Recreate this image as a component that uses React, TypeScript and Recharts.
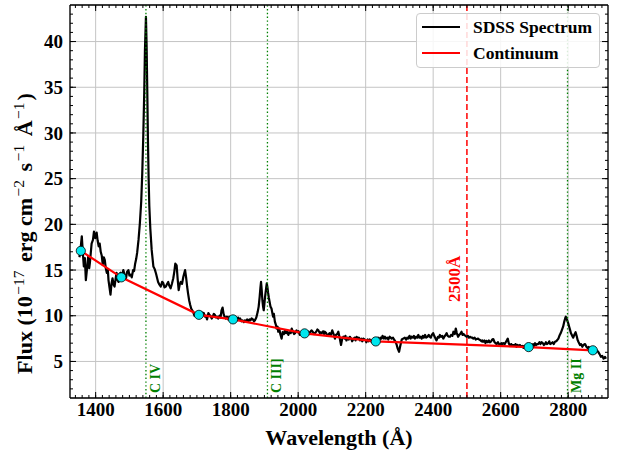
import {
  ComposedChart, Line, Scatter, XAxis, YAxis, CartesianGrid,
  ReferenceLine, Legend, Label,
} from 'recharts';

const specWave = [
  1352, 1356, 1359, 1362, 1365, 1368, 1371, 1374, 1378, 1381, 1383, 1388, 1392, 1395, 1399,
  1403, 1406, 1409, 1412, 1415, 1418, 1421, 1424, 1427, 1430, 1433, 1436, 1438, 1441, 1444,
  1447, 1450, 1453, 1456, 1459, 1462, 1465, 1468, 1471, 1474, 1478, 1482, 1486, 1490, 1493,
  1497, 1500, 1504, 1507, 1511, 1514, 1517, 1520, 1523, 1527, 1531, 1535, 1538, 1541, 1544,
  1546, 1549, 1551, 1553, 1555, 1557, 1559, 1562, 1566, 1571, 1575, 1579, 1585, 1589, 1593,
  1597, 1600, 1604, 1608, 1612, 1615, 1618, 1622, 1626, 1630, 1633, 1636, 1640, 1643, 1646,
  1649, 1652, 1656, 1660, 1665, 1668, 1671, 1674, 1677, 1680, 1683, 1686, 1689, 1693, 1696,
  1699, 1703, 1707, 1710, 1714, 1717, 1720, 1724, 1727, 1730, 1734, 1737, 1740, 1744, 1747,
  1750, 1753, 1757, 1760, 1763, 1767, 1770, 1773, 1776, 1779, 1782, 1786, 1789, 1792, 1796,
  1800, 1803, 1807, 1811, 1815, 1818, 1822, 1825, 1828, 1832, 1835, 1839, 1842, 1846, 1849,
  1852, 1856, 1859, 1862, 1866, 1869, 1872, 1876, 1880, 1883, 1886, 1888, 1890, 1892, 1894,
  1896, 1898, 1900, 1902, 1905, 1907, 1909, 1911, 1913, 1916, 1918, 1921, 1924, 1926, 1928,
  1931, 1934, 1936, 1939, 1941, 1944, 1947, 1951, 1954, 1958, 1961, 1964, 1967, 1971, 1974,
  1978, 1981, 1984, 1988, 1991, 1995, 1998, 2001, 2005, 2008, 2012, 2016, 2020, 2024, 2027,
  2030, 2034, 2037, 2040, 2044, 2047, 2050, 2054, 2057, 2060, 2064, 2067, 2070, 2074, 2077,
  2079, 2083, 2086, 2089, 2093, 2097, 2101, 2105, 2109, 2112, 2116, 2119, 2123, 2127, 2130,
  2134, 2138, 2140, 2143, 2147, 2150, 2153, 2157, 2160, 2163, 2167, 2170, 2173, 2177, 2180,
  2183, 2187, 2190, 2193, 2197, 2200, 2202, 2206, 2209, 2212, 2216, 2219, 2222, 2226, 2230,
  2234, 2237, 2240, 2244, 2247, 2250, 2254, 2257, 2260, 2264, 2267, 2271, 2274, 2277, 2281,
  2284, 2288, 2292, 2295, 2299, 2302, 2305, 2307, 2311, 2316, 2320, 2323, 2326, 2330, 2333,
  2336, 2340, 2343, 2346, 2350, 2353, 2356, 2359, 2362, 2366, 2369, 2372, 2376, 2379, 2383,
  2387, 2390, 2393, 2396, 2400, 2403, 2407, 2410, 2414, 2417, 2420, 2423, 2427, 2430, 2433,
  2437, 2440, 2443, 2447, 2450, 2453, 2457, 2460, 2464, 2467, 2470, 2474, 2477, 2480, 2484,
  2487, 2490, 2492, 2496, 2499, 2503, 2506, 2509, 2513, 2516, 2519, 2523, 2526, 2529, 2533,
  2536, 2539, 2543, 2546, 2548, 2552, 2555, 2558, 2562, 2565, 2568, 2572, 2575, 2578, 2582,
  2585, 2588, 2592, 2595, 2598, 2602, 2605, 2608, 2612, 2615, 2618, 2621, 2624, 2628, 2631,
  2634, 2637, 2641, 2644, 2647, 2650, 2654, 2657, 2660, 2664, 2667, 2670, 2674, 2677, 2680,
  2683, 2686, 2689, 2692, 2696, 2699, 2702, 2705, 2708, 2711, 2715, 2718, 2721, 2725, 2728,
  2731, 2734, 2737, 2741, 2744, 2747, 2751, 2754, 2757, 2761, 2764, 2767, 2771, 2774, 2778,
  2781, 2785, 2788, 2791, 2793, 2796, 2800, 2803, 2806, 2808, 2812, 2815, 2818, 2822, 2825,
  2828, 2831, 2835, 2838, 2842, 2845, 2850, 2854, 2858, 2861, 2864, 2868, 2871, 2875, 2878,
  2881, 2885, 2889, 2893, 2897, 2901, 2905, 2909, 2912,
];
const specFlux = [
  16.4, 17.6, 18.7, 16.9, 15.4, 16.3, 13.9, 15.0, 16.5, 15.2, 15.8, 17.9, 18.3, 19.2, 18.5,
  19.1, 18.2, 17.6, 17.9, 17.0, 16.6, 15.6, 16.4, 16.1, 15.2, 14.7, 15.1, 13.9, 13.1, 12.3,
  13.5, 14.1, 13.4, 13.2, 14.0, 14.7, 13.9, 13.7, 14.6, 14.7, 14.3, 15.0, 14.4, 14.1, 14.8,
  15.0, 14.4, 14.5, 14.2, 15.0, 14.9, 15.7, 16.2, 16.9, 18.3, 20.1, 22.5, 25.5, 29.5, 34.5,
  39.0, 42.7, 39.5, 34.5, 29.0, 25.0, 22.0, 19.5, 17.2, 15.4, 15.1, 14.6, 13.7, 13.4, 13.2,
  13.7, 13.6, 13.1, 13.2, 13.5, 13.7, 13.3, 13.0, 13.5, 14.1, 14.8, 15.7, 15.5, 14.0, 12.8,
  13.4, 13.7, 13.5, 14.3, 15.0, 14.2, 13.2, 12.4, 11.7, 11.2, 10.8, 10.6, 10.4, 10.0, 10.3,
  10.1, 9.9, 10.2, 10.0, 10.4, 10.1, 10.3, 9.9, 10.0, 9.6, 10.3, 10.1, 10.0, 9.7, 9.9,
  10.2, 10.1, 9.8, 9.9, 9.7, 10.0, 9.8, 10.6, 10.9, 10.2, 9.9, 9.7, 9.9, 9.6, 9.9,
  9.6, 9.8, 9.6, 9.4, 9.7, 9.5, 9.8, 9.6, 9.7, 9.4, 9.5, 9.3, 9.5, 9.4, 9.6,
  9.35, 9.6, 9.5, 9.7, 9.6, 9.4, 9.5, 9.8, 10.4, 11.0, 12.1, 13.0, 13.7, 12.8, 11.7,
  11.0, 10.6, 11.3, 12.1, 13.0, 13.55, 13.1, 12.5, 12.0, 11.4, 11.0, 10.8, 10.2, 9.9, 10.2,
  9.35, 9.0, 8.6, 8.8, 8.25, 8.6, 8.0, 7.5, 8.2, 8.0, 8.4, 8.1, 8.3, 7.9, 8.2,
  8.1, 8.6, 8.3, 8.0, 8.1, 8.4, 8.2, 8.3, 7.9, 8.1, 8.3, 8.0, 8.1, 8.3, 8.2,
  8.25, 8.0, 8.3, 8.4, 8.2, 8.0, 8.1, 8.3, 8.5, 8.4, 8.1, 8.2, 8.1, 8.3, 8.0,
  8.25, 8.1, 7.8, 7.9, 8.1, 7.9, 8.4, 8.0, 7.5, 7.9, 8.0, 8.25, 7.6, 6.8, 7.4,
  7.7, 7.5, 7.8, 7.3, 7.6, 7.4, 7.7, 7.5, 7.2, 7.4, 7.6, 7.3, 7.7, 7.5, 7.6,
  7.3, 7.5, 7.2, 7.5, 7.4, 7.3, 7.1, 7.4, 7.2, 7.4, 7.2, 7.3, 7.0, 7.2, 7.1,
  7.4, 7.6, 7.3, 7.6, 7.5, 7.8, 7.5, 7.7, 7.5, 7.6, 7.4, 7.7, 7.6, 7.5, 7.6,
  7.4, 7.2, 6.8, 6.4, 6.05, 6.6, 7.1, 7.4, 7.5, 7.6, 7.4, 7.6, 7.5, 7.8, 7.5,
  7.7, 7.6, 7.8, 7.5, 7.7, 7.6, 7.9, 7.6, 7.7, 7.5, 7.8, 7.6, 7.9, 7.6, 7.7,
  7.9, 7.7, 7.6, 7.9, 8.1, 7.8, 7.5, 7.3, 7.7, 7.6, 7.9, 7.7, 7.8, 7.5, 7.7,
  7.9, 8.1, 7.8, 7.7, 7.7, 7.9, 7.8, 8.25, 8.0, 8.6, 8.1, 7.7, 7.9, 8.0, 8.25,
  7.9, 8.0, 7.9, 7.8, 7.7, 7.8, 7.6, 7.7, 7.6, 7.6, 7.5, 7.6, 7.4, 7.45, 7.5,
  7.4, 7.35, 7.2, 7.3, 7.15, 7.3, 7.0, 7.25, 7.1, 7.3, 7.1, 7.2, 7.4, 7.45, 7.1,
  7.0, 6.9, 7.1, 6.9, 6.8, 7.0, 6.9, 7.0, 6.9, 7.1, 7.3, 7.5, 7.0, 6.7, 6.9,
  6.8, 6.8, 6.7, 6.9, 6.6, 6.8, 6.7, 6.8, 6.6, 6.7, 6.5, 6.7, 6.5, 6.6, 6.4,
  6.6, 6.5, 6.7, 6.8, 6.9, 6.7, 7.0, 6.8, 6.9, 6.9, 7.1, 6.9, 7.1, 7.0, 6.8,
  6.9, 7.1, 6.9, 7.0, 7.2, 6.9, 7.0, 7.1, 6.9, 7.15, 7.2, 7.3, 7.5, 7.8, 8.1,
  8.4, 8.8, 9.3, 9.7, 9.9, 9.6, 9.2, 8.8, 8.4, 8.1, 7.8, 7.6, 7.9, 8.2, 7.8,
  7.35, 7.1, 6.8, 6.9, 6.6, 6.8, 6.9, 6.6, 6.45, 6.6, 6.3, 6.4, 6.2, 6.3, 6.1,
  5.95, 6.2, 6.05, 5.8, 5.5, 5.6, 5.3, 5.5, 5.3,
];

// continuum windows (cyan points) joined by the red continuum line
const contWave = [1356, 1476, 1706, 1807, 2019, 2230, 2683, 2873];
const contFlux = [17.1, 14.2, 10.1, 9.6, 8.07, 7.19, 6.57, 6.22];

const lineNames = ['C IV', 'C III]', 'Mg II'];
const lineWaves = [1549, 1909, 2798];
const refWave = 2500;
const refLabel = '2500Å';
const legendOrder = ['SDSS Spectrum', 'Continuum'];

const xTicks = [1400, 1600, 1800, 2000, 2200, 2400, 2600, 2800];
const yTicks = [5, 10, 15, 20, 25, 30, 35, 40];
const xDomain: [number, number] = [1324, 2918];
const yDomain: [number, number] = [1, 44];

const xMinor = Array.from({ length: 80 }, (_, i) => 1320 + 20 * i)
  .filter((v) => v > xDomain[0] && v < xDomain[1]);
const yMinor = Array.from({ length: 44 }, (_, i) => 1 + i)
  .filter((v) => v > yDomain[0] && v < yDomain[1]);

const spectrum = specWave.map((w, i) => ({ w, f: specFlux[i] }));
const continuum = contWave.map((w, i) => ({ w, f: contFlux[i] }));

const serif = '"Liberation Serif", "Times New Roman", serif';
const tickFont = { fill: '#000', fontSize: 19, fontWeight: 'bold', fontFamily: serif };

const noTick = () => <g />;

const YTitle = (props: any) => {
  const vb = props.viewBox;
  const x = vb.x + 32;
  const y = vb.y + vb.height / 2 + 32;
  const sup = { dy: -8, dx: 1.5, fontSize: 15.5, fontWeight: 'normal' as const };
  return (
    <text x={x} y={y} transform={`rotate(-90, ${x}, ${y})`} textAnchor="middle"
      fontFamily={serif} fontWeight="bold" fontSize={22} fill="#000">
      Flux (10<tspan {...sup}>−17</tspan>
      <tspan dy={8} dx={3}> erg cm</tspan><tspan {...sup}>−2</tspan>
      <tspan dy={8} dx={3}> s</tspan><tspan {...sup}>−1</tspan>
      <tspan dy={8} dx={3}> Å</tspan><tspan {...sup}>−1</tspan>
      <tspan dy={8} dx={2}>)</tspan>
    </text>
  );
};

const XTitle = (props: any) => {
  const vb = props.viewBox;
  return (
    <text x={vb.x + vb.width / 2} y={vb.y + 47} textAnchor="middle"
      fontFamily={serif} fontWeight="bold" fontSize={22} fill="#000">
      Wavelength (Å)
    </text>
  );
};

const lineLabel = (text: string, color: string, dx: number, up: number, size: number) => (props: any) => {
  const vb = props.viewBox;
  const bottom = Math.max(vb.y, vb.y + vb.height);
  const x = vb.x + dx;
  const y = bottom - up;
  return (
    <text x={x} y={y} transform={`rotate(-90, ${x}, ${y})`} textAnchor="start"
      fontFamily={serif} fontWeight="bold" fontSize={size} fill={color}>
      {text}
    </text>
  );
};

const renderLegend = (props: any) => {
  const items = (props.payload || [])
    .filter((p: any) => legendOrder.includes(p.value))
    .sort((a: any, b: any) => legendOrder.indexOf(a.value) - legendOrder.indexOf(b.value));
  return (
    <div style={{
      boxSizing: 'border-box', width: 184, height: 55, border: '1px solid #cccccc',
      borderRadius: 4, background: 'rgba(255,255,255,0.85)',
    }}>
      {items.map((p: any) => (
        <div key={p.value} style={{ display: 'flex', alignItems: 'center', height: 26 }}>
          <div style={{ marginLeft: 5, width: 38, height: 2, background: p.color }} />
          <span style={{
            marginLeft: 13, fontFamily: serif, fontWeight: 'bold', fontSize: 17.5,
            color: '#000', lineHeight: '26px',
          }}>{p.value}</span>
        </div>
      ))}
    </div>
  );
};

const Dot = (props: any) => (
  <circle cx={props.cx} cy={props.cy} r={4.6} fill="#00e6ee" stroke="#000" strokeWidth={0.8} />
);

// invisible series so each tick-only axis gets a domain and draws its ticks
const tickPairs = [['bMaj', 'lMaj'], ['bMin', 'lMin'], ['tMaj', 'rMaj'], ['tMin', 'rMin']];
const thin = 0.01;

export default function App() {
  const axisCommon = { type: 'number' as const, scale: 'linear' as const, allowDataOverflow: true };
  const tl = { stroke: '#000', strokeWidth: 1 };
  const frame = { stroke: '#000', strokeWidth: 1.3 };
  return (
    <div style={{ position: 'absolute', left: 0, top: 0, background: '#fff' }}>
      <ComposedChart width={620} height={455} margin={{ top: 5, right: 12, bottom: 0, left: 0 }}>
        {/* inward ticks on all four sides */}
        <XAxis xAxisId="bMaj" dataKey="w" {...axisCommon} domain={xDomain} ticks={xTicks} orientation="bottom"
          mirror height={thin} tickSize={6} tick={noTick} interval={0} axisLine={false} tickLine={tl} />
        <XAxis xAxisId="bMin" dataKey="w" {...axisCommon} domain={xDomain} ticks={xMinor} orientation="bottom"
          mirror height={thin} tickSize={3} tick={noTick} interval={0} axisLine={false} tickLine={tl} />
        <XAxis xAxisId="tMaj" dataKey="w" {...axisCommon} domain={xDomain} ticks={xTicks} orientation="top"
          mirror height={thin} tickSize={6} tick={noTick} interval={0} axisLine={frame} tickLine={tl} />
        <XAxis xAxisId="tMin" dataKey="w" {...axisCommon} domain={xDomain} ticks={xMinor} orientation="top"
          mirror height={thin} tickSize={3} tick={noTick} interval={0} axisLine={false} tickLine={tl} />
        <YAxis yAxisId="lMaj" dataKey="f" {...axisCommon} domain={yDomain} ticks={yTicks} orientation="left"
          mirror width={thin} tickSize={6} tick={noTick} interval={0} axisLine={false} tickLine={tl} />
        <YAxis yAxisId="lMin" dataKey="f" {...axisCommon} domain={yDomain} ticks={yMinor} orientation="left"
          mirror width={thin} tickSize={3} tick={noTick} interval={0} axisLine={false} tickLine={tl} />
        <YAxis yAxisId="rMaj" dataKey="f" {...axisCommon} domain={yDomain} ticks={yTicks} orientation="right"
          mirror width={thin} tickSize={6} tick={noTick} interval={0} axisLine={frame} tickLine={tl} />
        <YAxis yAxisId="rMin" dataKey="f" {...axisCommon} domain={yDomain} ticks={yMinor} orientation="right"
          mirror width={thin} tickSize={3} tick={noTick} interval={0} axisLine={false} tickLine={tl} />

        <XAxis xAxisId="main" dataKey="w" {...axisCommon} domain={xDomain} ticks={xTicks} height={57}
          tickLine={false} tickSize={3} tickMargin={2} interval={0} tick={tickFont} axisLine={frame}>
          <Label content={XTitle} />
        </XAxis>
        <YAxis yAxisId="main" dataKey="f" {...axisCommon} domain={yDomain} ticks={yTicks} width={70}
          tickLine={false} tickSize={4} tickMargin={3} interval={0} tick={tickFont} axisLine={frame}>
          <Label content={YTitle} />
        </YAxis>

        <CartesianGrid xAxisId="main" yAxisId="main" stroke="#c4c4c4" strokeWidth={1} />

        {tickPairs.map(([xa, ya]) => (
          <Line key={xa} xAxisId={xa} yAxisId={ya} data={continuum} dataKey="f" stroke="none"
            dot={false} activeDot={false} legendType="none" isAnimationActive={false} />
        ))}

        <Line xAxisId="main" yAxisId="main" data={spectrum} dataKey="f" name="SDSS Spectrum"
          type="linear" stroke="#000" strokeWidth={2.2} dot={false} activeDot={false}
          strokeLinejoin="round" isAnimationActive={false} />

        {lineWaves.map((w, i) => (
          <ReferenceLine key={lineNames[i]} xAxisId="main" yAxisId="main" x={w}
            stroke="#008000" strokeWidth={1.3} strokeDasharray="1.4 2.4"
            label={lineLabel(lineNames[i], '#008000', 14, 5, 14)} />
        ))}
        <ReferenceLine xAxisId="main" yAxisId="main" x={refWave} stroke="#ff0000"
          strokeWidth={1.5} strokeDasharray="6 3"
          label={lineLabel(refLabel, '#ff0000', -7, 96, 17)} />

        <Line xAxisId="main" yAxisId="main" data={continuum} dataKey="f" name="Continuum"
          type="linear" stroke="#ff0000" strokeWidth={2.2} dot={false} activeDot={false}
          isAnimationActive={false} />
        <Scatter xAxisId="main" yAxisId="main" data={continuum} dataKey="f" name="windows"
          legendType="none" shape={Dot} isAnimationActive={false} />

        <Legend content={renderLegend} layout="vertical" align="center" verticalAlign="middle"
          wrapperStyle={{ left: 416, top: 13, width: 184, height: 55 }} />
      </ComposedChart>
    </div>
  );
}
